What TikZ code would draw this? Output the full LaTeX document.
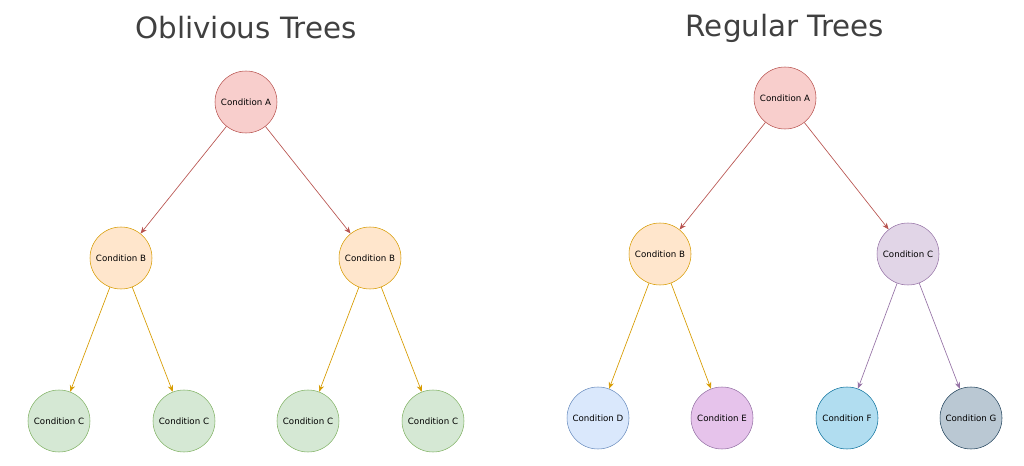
\documentclass[tikz,border=0pt]{standalone}
\usepackage{fontspec}
\setmainfont{DejaVu Sans}
\usetikzlibrary{arrows.meta}
\definecolor{redF}{HTML}{F8CECC}\definecolor{redD}{HTML}{B85450}
\definecolor{orgF}{HTML}{FFE6CC}\definecolor{orgD}{HTML}{D79B00}
\definecolor{grnF}{HTML}{D5E8D4}\definecolor{grnD}{HTML}{82B366}
\definecolor{purF}{HTML}{E1D5E7}\definecolor{purD}{HTML}{9673A6}
\definecolor{bluF}{HTML}{DAE8FC}\definecolor{bluD}{HTML}{6C8EBF}
\definecolor{pnkF}{HTML}{E6C3EB}\definecolor{pnkD}{HTML}{9673A6}
\definecolor{cyaF}{HTML}{B1DDF0}\definecolor{cyaD}{HTML}{10739E}
\definecolor{gryF}{HTML}{BAC8D3}\definecolor{gryD}{HTML}{23445D}
\tikzset{
    cond/.style={
    circle, draw, minimum size=46.5pt, inner sep=0pt,
    font=\fontsize{6.5}{8}\selectfont
    },
    edge/.style={-{Stealth[length=5pt,width=4pt]}, line width=0.5pt}
}
\begin{document}
\begin{tikzpicture}[x=0.75pt,y=-0.75pt]
\useasboundingbox (0,0) rectangle (1024,466);

\node[font=\fontsize{22}{26}\selectfont, text=black!75] (t1) at (246,28) {Oblivious Trees};
\node[font=\fontsize{22}{26}\selectfont, text=black!75] (t2) at (785,28) {Regular Trees};

% oblivious tree
\node[cond, fill=redF, draw=redD] (oa) at (246,102) {Condition A};
\node[cond, fill=orgF, draw=orgD] (ob1) at (121,258) {Condition B};
\node[cond, fill=orgF, draw=orgD] (ob2) at (370,258) {Condition B};
\node[cond, fill=grnF, draw=grnD] (oc1) at (59,421) {Condition C};
\node[cond, fill=grnF, draw=grnD] (oc2) at (184,421) {Condition C};
\node[cond, fill=grnF, draw=grnD] (oc3) at (308,421) {Condition C};
\node[cond, fill=grnF, draw=grnD] (oc4) at (433,421) {Condition C};

\draw[edge, redD] (oa) -- (ob1);
\draw[edge, redD] (oa) -- (ob2);
\draw[edge, orgD] (ob1) -- (oc1);
\draw[edge, orgD] (ob1) -- (oc2);
\draw[edge, orgD] (ob2) -- (oc3);
\draw[edge, orgD] (ob2) -- (oc4);

% regular tree
\node[cond, fill=redF, draw=redD] (ra) at (785,98) {Condition A};
\node[cond, fill=orgF, draw=orgD] (rb) at (660,254) {Condition B};
\node[cond, fill=purF, draw=purD] (rc) at (908,254) {Condition C};
\node[cond, fill=bluF, draw=bluD] (rd) at (598,418) {Condition D};
\node[cond, fill=pnkF, draw=pnkD] (re) at (722,418) {Condition E};
\node[cond, fill=cyaF, draw=cyaD] (rf) at (847,418) {Condition F};
\node[cond, fill=gryF, draw=gryD] (rg) at (971,418) {Condition G};

\draw[edge, redD] (ra) -- (rb);
\draw[edge, redD] (ra) -- (rc);
\draw[edge, orgD] (rb) -- (rd);
\draw[edge, orgD] (rb) -- (re);
\draw[edge, purD] (rc) -- (rf);
\draw[edge, purD] (rc) -- (rg);

\end{tikzpicture}
\end{document}
